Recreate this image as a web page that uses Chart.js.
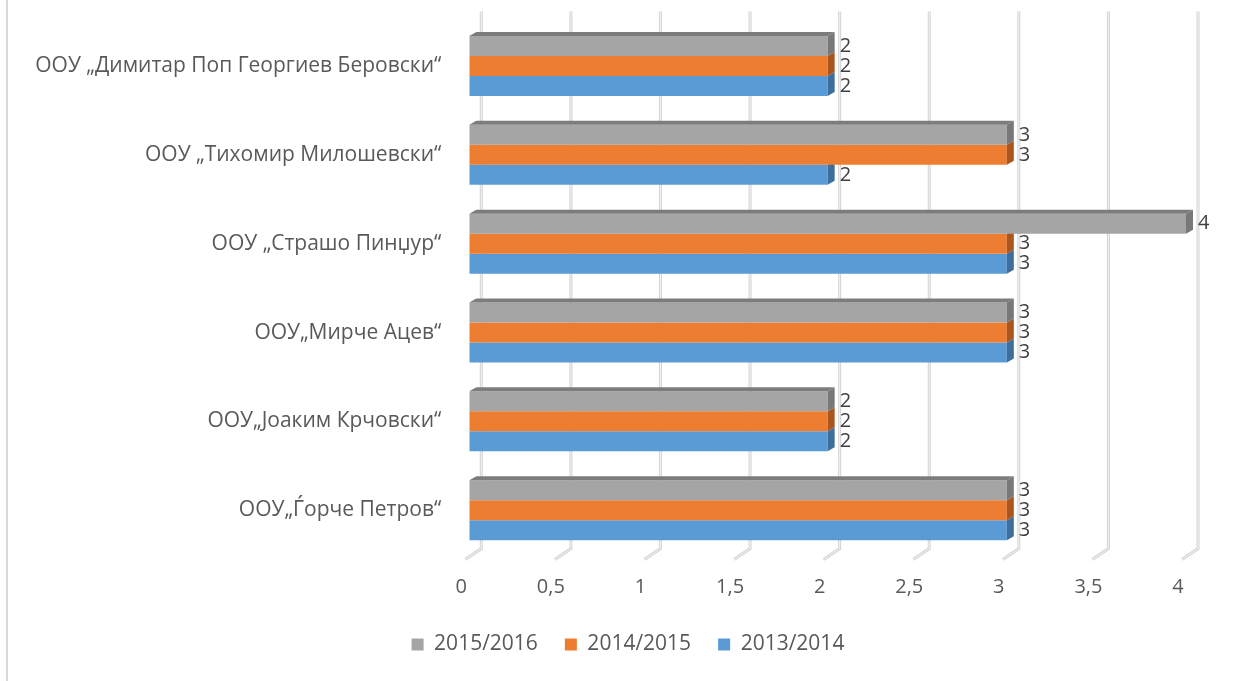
<!DOCTYPE html>
<html>
<head>
<meta charset="utf-8">
<script src="https://cdn.jsdelivr.net/npm/chart.js@4"></script>
<style>
  html, body { margin: 0; padding: 0; background: #fff; }
  #wrap { position: relative; width: 1234px; height: 681px; }
</style>
</head>
<body>
<div id="wrap"><canvas id="chart" width="1234" height="681"></canvas></div>
<script>
// School names, top to bottom as in the picture
const schools = [
    'ООУ „Димитар Поп Георгиев Беровски“',
    'ООУ „Тихомир Милошевски“',
    'ООУ „Страшо Пинџур“',
    'ООУ„Мирче Ацев“',
    'ООУ„Јоаким Крчовски“',
    'ООУ„Ѓорче Петров“'
];

const years = ['2015/2016', '2014/2015', '2013/2014'];

const values2015 = [2, 3, 4, 3, 2, 3];
const values2014 = [2, 3, 3, 3, 2, 3];
const values2013 = [2, 2, 3, 3, 2, 3];

const xMin = 0;
const xMax = 4;
const xStep = 0.5;

const fronts = ['#a5a5a5', '#ed7d31', '#5b9bd5'];
const sides = ['#787878', '#a9561f', '#3e6f9c'];
const tops = ['#7c7c7c', '#b0601f', '#41749f'];

const DX = 7, DY = 4;
const FONT = '"Open Sans", sans-serif';

// fake 3D: side and top faces of each bar
const bars3d = {
    id: 'bars3d',
    afterDatasetDraw(chart, args) {
        const ctx = chart.ctx;
        const i = args.index;
        const meta = args.meta;
        const prev = i > 0 ? chart.getDatasetMeta(i - 1) : null;
        ctx.save();
        meta.data.forEach((el, j) => {
            const p = el.getProps(['x', 'y', 'base', 'height'], true);
            const top = p.y - p.height / 2;
            const bottom = p.y + p.height / 2;
            // top face, only the part not hidden by the bar above
            let from = p.base;
            if (prev) from = Math.max(p.base, prev.data[j].x);
            if (p.x > from) {
                ctx.fillStyle = tops[i];
                ctx.beginPath();
                ctx.moveTo(from, top);
                ctx.lineTo(from + DX, top - DY);
                ctx.lineTo(p.x + DX, top - DY);
                ctx.lineTo(p.x, top);
                ctx.closePath();
                ctx.fill();
            }
            ctx.fillStyle = sides[i];
            ctx.beginPath();
            ctx.moveTo(p.x, top);
            ctx.lineTo(p.x + DX, top - DY);
            ctx.lineTo(p.x + DX, bottom - DY);
            ctx.lineTo(p.x, bottom);
            ctx.closePath();
            ctx.fill();
        });
        ctx.restore();
    }
};

// back wall grid lines with a slanted foot, plus the chart frame line on the left
const grid3d = {
    id: 'grid3d',
    beforeDatasetsDraw(chart) {
        const ctx = chart.ctx;
        const xs = chart.scales.x;
        const area = chart.chartArea;
        ctx.save();
        ctx.fillStyle = '#d9d9d9';
        ctx.fillRect(6, 0, 2, chart.height);
        xs.ticks.forEach(t => {
            const x = xs.getPixelForValue(t.value) + 12;
            const y0 = area.top - 10;
            const y1 = area.bottom - 6;
            ctx.beginPath();
            ctx.moveTo(x, y0);
            ctx.lineTo(x, y1);
            ctx.lineTo(x - 16, y1 + 11);
            ctx.lineWidth = 3;
            ctx.strokeStyle = '#d4d4d4';
            ctx.stroke();
            ctx.lineWidth = 1;
            ctx.strokeStyle = '#f4f4f4';
            ctx.stroke();
        });
        ctx.restore();
    }
};

const valueLabels = {
    id: 'valueLabels',
    afterDatasetsDraw(chart) {
        const ctx = chart.ctx;
        ctx.save();
        ctx.font = '20px ' + FONT;
        ctx.fillStyle = '#404040';
        ctx.textAlign = 'left';
        ctx.textBaseline = 'middle';
        chart.data.datasets.forEach((ds, i) => {
            chart.getDatasetMeta(i).data.forEach((el, j) => {
                ctx.fillText(String(ds.data[j]).replace('.', ','), el.x + 12, el.y);
            });
        });
        ctx.restore();
    }
};

new Chart(document.getElementById('chart'), {
    type: 'bar',
    data: {
        labels: schools,
        datasets: [
            { label: years[0], data: values2015, backgroundColor: fronts[0] },
            { label: years[1], data: values2014, backgroundColor: fronts[1] },
            { label: years[2], data: values2013, backgroundColor: fronts[2] }
        ]
    },
    options: {
        indexAxis: 'y',
        responsive: false,
        animation: false,
        barPercentage: 1,
        categoryPercentage: 0.675,
        layout: { padding: { top: 21.6, left: 22, right: 0, bottom: 16 } },
        plugins: {
            legend: {
                position: 'bottom',
                labels: {
                    boxWidth: 12,
                    boxHeight: 12,
                    padding: 27,
                    color: '#595959',
                    font: { family: FONT, size: 21 }
                }
            },
            tooltip: { enabled: false }
        },
        scales: {
            x: {
                min: xMin,
                max: xMax,
                grid: { display: false },
                border: { display: false },
                ticks: {
                    stepSize: xStep,
                    padding: 13,
                    labelOffset: -8,
                    color: '#595959',
                    font: { family: FONT, size: 20 },
                    callback: v => String(v).replace('.', ',')
                },
                afterFit(s) { s.height = 52.4; }
            },
            y: {
                grid: { display: false, drawTicks: false },
                border: { display: false },
                ticks: {
                    padding: 28,
                    color: '#595959',
                    font: { family: FONT, size: 21 }
                },
                afterFit(s) {
                    s.width = 447.3;
                    s.paddingTop = 0;
                    s.paddingBottom = 0;
                }
            },
            // empty right-hand space, keeps the legend centred like the original
            yRight: {
                type: 'category',
                position: 'right',
                grid: { display: false, drawTicks: false },
                border: { display: false },
                ticks: { display: false },
                afterFit(s) {
                    s.width = 48;
                    s.paddingTop = 0;
                    s.paddingBottom = 0;
                }
            }
        }
    },
    plugins: [grid3d, bars3d, valueLabels]
});
</script>
</body>
</html>
